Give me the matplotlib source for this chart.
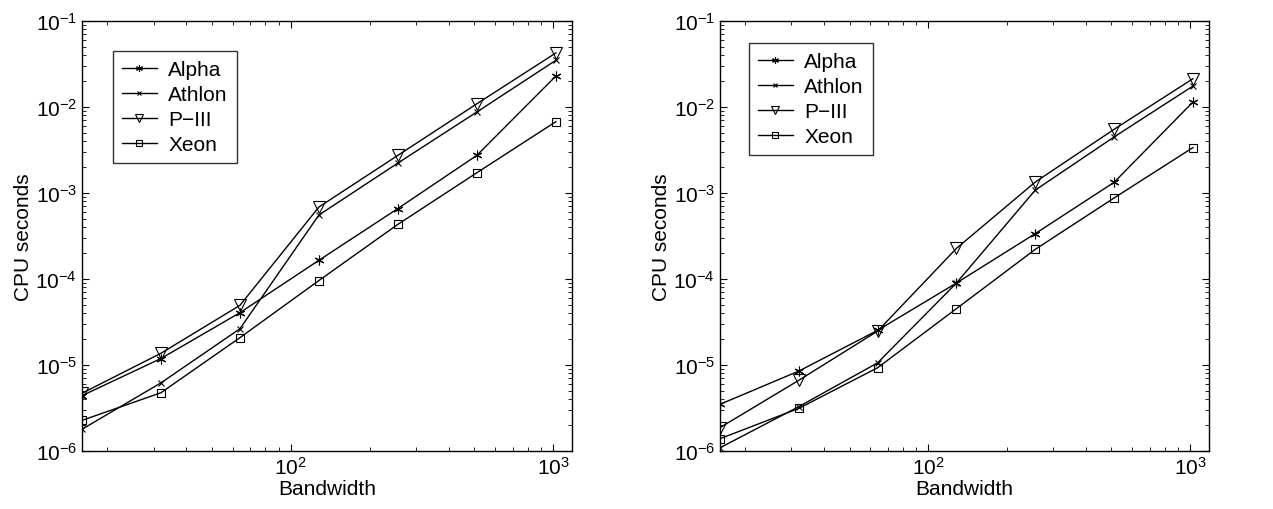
import matplotlib
matplotlib.use("Agg")
import matplotlib.pyplot as plt
from matplotlib.ticker import LogLocator, NullFormatter

plt.rcParams['font.family'] = ['Liberation Sans', 'DejaVu Sans']
plt.rcParams['mathtext.fontset'] = 'custom'
plt.rcParams['mathtext.rm'] = 'Liberation Sans'
plt.rcParams['mathtext.it'] = 'Liberation Sans'

bandwidth = [16, 32, 64, 128, 256, 512, 1024]
series_names = ["Alpha", "Athlon", "P\u2212III", "Xeon"]

left_alpha = [4.4e-6, 1.19e-5, 4.06e-5, 1.65e-4, 6.6e-4, 2.74e-3, 2.29e-2]
left_athlon = [1.79e-6, 6.2e-6, 2.64e-5, 5.55e-4, 2.23e-3, 8.75e-3, 3.49e-2]
left_p3 = [4.69e-6, 1.37e-5, 4.94e-5, 6.87e-4, 2.74e-3, 1.09e-2, 4.25e-2]
left_xeon = [2.27e-6, 4.76e-6, 2.08e-5, 9.6e-5, 4.32e-4, 1.72e-3, 6.75e-3]

right_alpha = [3.49e-6, 8.5e-6, 2.53e-5, 8.98e-5, 3.37e-4, 1.33e-3, 1.14e-2]
right_athlon = [1.09e-6, 3.28e-6, 1.06e-5, 8.98e-5, 1.08e-3, 4.48e-3, 1.75e-2]
right_p3 = [1.87e-6, 6.64e-6, 2.48e-5, 2.27e-4, 1.34e-3, 5.5e-3, 2.13e-2]
right_xeon = [1.39e-6, 3.13e-6, 9.3e-6, 4.52e-5, 2.21e-4, 8.75e-4, 3.37e-3]

markers = [(6, 2, 0), 'x', 'v', 's']
msizes = [7, 5, 8, 6]

fig = plt.figure(figsize=(12.73, 5.10), dpi=100)
ax1 = fig.add_axes([82/1273, 58/510, 490/1273, 430/510])
ax2 = fig.add_axes([720/1273, 58/510, 489/1273, 430/510])

panels = [
    (ax1, [left_alpha, left_athlon, left_p3, left_xeon], (0.063, 0.930)),
    (ax2, [right_alpha, right_athlon, right_p3, right_xeon], (0.059, 0.949)),
]

for ax, data, anchor in panels:
    for name, vals, m, ms in zip(series_names, data, markers, msizes):
        ax.plot(bandwidth, vals, color='black', lw=1.0, marker=m, ms=ms,
                markerfacecolor='none', markeredgecolor='black', markeredgewidth=0.8,
                label=name)
    ax.set_xscale('log')
    ax.set_yscale('log')
    ax.set_xlim(16, 1180)
    ax.set_ylim(1e-6, 1e-1)
    ax.yaxis.set_major_locator(LogLocator(base=10, numticks=10))
    ax.yaxis.set_minor_locator(LogLocator(base=10, subs=range(2, 10), numticks=20))
    ax.yaxis.set_minor_formatter(NullFormatter())
    ax.xaxis.set_major_locator(LogLocator(base=10, numticks=10))
    ax.xaxis.set_minor_locator(LogLocator(base=10, subs=range(2, 10), numticks=20))
    ax.xaxis.set_minor_formatter(NullFormatter())
    ax.tick_params(which='both', direction='in', top=True, right=True, labelsize=15)
    ax.tick_params(which='major', length=5, width=0.8)
    ax.tick_params(which='minor', length=3, width=0.6)
    for s in ax.spines.values():
        s.set_linewidth(1.0)
    ax.set_xlabel('Bandwidth', fontsize=15, labelpad=1)
    ax.set_ylabel('CPU seconds', fontsize=15, labelpad=2)
    leg = ax.legend(loc='upper left', bbox_to_anchor=anchor, borderaxespad=0,
                    fontsize=15, handlelength=1.65, frameon=True, fancybox=False,
                    edgecolor='black', borderpad=0.45, labelspacing=0.28,
                    handletextpad=0.55, markerscale=0.7)
    leg.get_frame().set_linewidth(1.0)

fig.savefig('out.png', dpi=100)
